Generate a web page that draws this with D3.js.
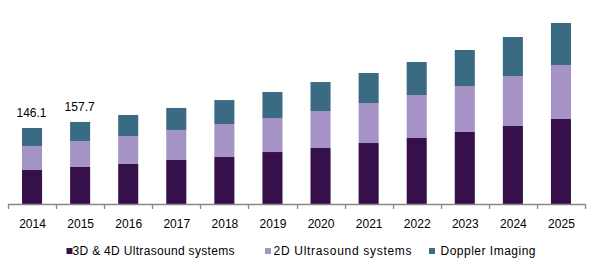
<!DOCTYPE html>
<html>
<head>
<meta charset="utf-8">
<script src="https://cdn.jsdelivr.net/npm/d3@7"></script>
<style>
html, body { margin: 0; padding: 0; background: #fff; }
svg { display: block; font-family: "Liberation Sans", Arial, sans-serif; }
</style>
</head>
<body>
<svg id="chart" width="591" height="265"></svg>
<script>
const years = ["2014","2015","2016","2017","2018","2019","2020","2021","2022","2023","2024","2025"];
const seriesNames = ["3D & 4D Ultrasound systems", "2D Ultrasound systems", "Doppler Imaging"];
const ultrasound3D4D = [65.4, 71.1, 76.9, 84.6, 90.3, 99.9, 107.6, 117.2, 126.9, 138.4, 149.9, 163.4];
const ultrasound2D   = [46.1, 50.0, 53.8, 57.7, 63.4, 65.3, 71.1, 76.9, 82.6, 88.4, 96.1, 103.8];
const doppler        = [34.6, 36.6, 40.4, 42.3, 46.1, 50.0, 55.7, 57.7, 63.4, 69.2, 75.0, 80.7];
const totalLabels = ["146.1", "157.7"];
const colors = ["#36104a", "#a593c6", "#3a6b83"];

const svg = d3.select("#chart");
const baseY = 204;
const x = d3.scaleBand().domain(years).range([8, 585]).paddingInner(0.583).paddingOuter(0.2915);
const y = d3.scaleLinear().domain([0, 400]).range([baseY, baseY - 400 / 1.922]);

const rows = years.map((yr, i) => ({ year: yr, s0: ultrasound3D4D[i], s1: ultrasound2D[i], s2: doppler[i] }));
const stack = d3.stack().keys(["s0", "s1", "s2"]);
const stacked = stack(rows);

svg.append("g").selectAll("g").data(stacked).join("g")
  .attr("fill", (d, i) => colors[i])
  .selectAll("rect").data(d => d).join("rect")
  .attr("x", d => x(d.data.year))
  .attr("width", x.bandwidth())
  .attr("y", d => y(d[1]))
  .attr("height", d => y(d[0]) - y(d[1]));

// value labels
const topLayer = stacked[stacked.length - 1];
svg.append("g").selectAll("text").data(totalLabels).join("text")
  .attr("x", (d, i) => x(years[i]) + x.bandwidth() / 2 - 0.5)
  .attr("y", (d, i) => y(topLayer[i][1]) - 10.5)
  .attr("text-anchor", "middle")
  .attr("font-size", 12)
  .attr("fill", "#000")
  .text(d => d);

// axis
const axisColor = "#888888";
const step = x.step();
const r = x.range();
svg.append("line").attr("x1", r[0]).attr("x2", r[1]).attr("y1", baseY + 0.5).attr("y2", baseY + 0.5)
  .attr("stroke", axisColor).attr("stroke-width", 1.3);
const boundaries = d3.range(years.length + 1).map(i => r[0] + i * step);
svg.append("g").selectAll("line").data(boundaries).join("line")
  .attr("x1", d => Math.round(d) + 0.5).attr("x2", d => Math.round(d) + 0.5)
  .attr("y1", baseY).attr("y2", baseY + 5)
  .attr("stroke", axisColor).attr("stroke-width", 1.3);

const axis = d3.axisBottom(x).tickSize(0).tickPadding(0);
const ag = svg.append("g").attr("transform", `translate(0,${baseY})`).call(axis);
ag.select(".domain").remove();
ag.selectAll("text").attr("font-size", 12).attr("font-family", "Liberation Sans, Arial, sans-serif")
  .attr("fill", "#000").attr("dy", 0).attr("y", 24).attr("dx", 0.5);

// legend
const legendX = [66.5, 265, 429];
const legendTextX = [72.5, 273.5, 440.5];
const legendTextW = [162, 138, 95];
const lg = svg.append("g");
seriesNames.forEach((name, i) => {
  lg.append("rect").attr("x", legendX[i]).attr("y", 248).attr("width", 6).attr("height", 6).attr("fill", colors[i]);
  lg.append("text").attr("x", legendTextX[i]).attr("y", 255.3).attr("font-size", 12)
    .attr("textLength", legendTextW[i]).attr("lengthAdjust", "spacing")
    .attr("fill", "#000").text(name);
});
</script>
</body>
</html>
